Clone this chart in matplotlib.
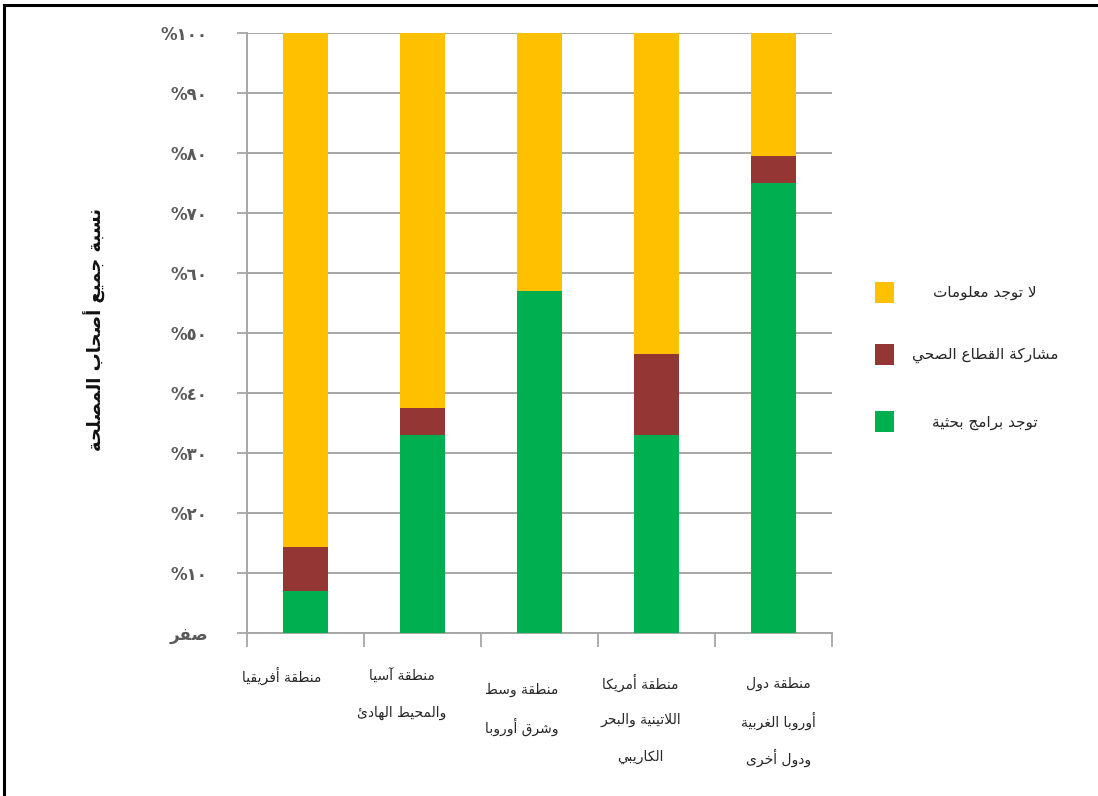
import matplotlib
matplotlib.use("Agg")
import matplotlib.pyplot as plt
from matplotlib.patches import Rectangle
from matplotlib.lines import Line2D
from matplotlib.transforms import blended_transform_factory
import numpy as np

# ---- Arabic shaping helpers (presentation forms, visual order) ----
_FORMS = {
    '\u0621': (0xFE80, 1),
    '\u0622': (0xFE81, 2), '\u0623': (0xFE83, 2), '\u0624': (0xFE85, 2), '\u0625': (0xFE87, 2),
    '\u0626': (0xFE89, 4), '\u0627': (0xFE8D, 2), '\u0628': (0xFE8F, 4), '\u0629': (0xFE93, 2),
    '\u062A': (0xFE95, 4), '\u062B': (0xFE99, 4), '\u062C': (0xFE9D, 4), '\u062D': (0xFEA1, 4),
    '\u062E': (0xFEA5, 4), '\u062F': (0xFEA9, 2), '\u0630': (0xFEAB, 2), '\u0631': (0xFEAD, 2),
    '\u0632': (0xFEAF, 2), '\u0633': (0xFEB1, 4), '\u0634': (0xFEB5, 4), '\u0635': (0xFEB9, 4),
    '\u0636': (0xFEBD, 4), '\u0637': (0xFEC1, 4), '\u0638': (0xFEC5, 4), '\u0639': (0xFEC9, 4),
    '\u063A': (0xFECD, 4), '\u0641': (0xFED1, 4), '\u0642': (0xFED5, 4), '\u0643': (0xFED9, 4),
    '\u0644': (0xFEDD, 4), '\u0645': (0xFEE1, 4), '\u0646': (0xFEE5, 4), '\u0647': (0xFEE9, 4),
    '\u0648': (0xFEED, 2), '\u0649': (0xFEEF, 2), '\u064A': (0xFEF1, 4),
}
_LAM_ALEF = {'\u0622': 0xFEF5, '\u0623': 0xFEF7, '\u0625': 0xFEF9, '\u0627': 0xFEFB}


def _nforms(c):
    if isinstance(c, tuple):
        return 2
    return _FORMS.get(c, (None, 0))[1]


def _shape_line(text):
    chars = []
    i = 0
    while i < len(text):
        c = text[i]
        if c == '\u0644' and i + 1 < len(text) and text[i + 1] in _LAM_ALEF:
            chars.append(('LA', text[i + 1]))
            i += 2
        else:
            chars.append(c)
            i += 1
    out = []
    for k, c in enumerate(chars):
        prev = chars[k - 1] if k > 0 else None
        nxt = chars[k + 1] if k + 1 < len(chars) else None
        n = _nforms(c)
        if n == 0:
            out.append(c)
            continue
        join_prev = prev is not None and _nforms(prev) == 4 and n >= 2
        join_next = n == 4 and nxt is not None and _nforms(nxt) >= 2
        if isinstance(c, tuple):
            out.append(chr(_LAM_ALEF[c[1]] + (1 if join_prev else 0)))
            continue
        base = _FORMS[c][0]
        if n == 1:
            idx = 0
        elif n == 2:
            idx = 1 if join_prev else 0
        else:
            idx = {(False, False): 0, (True, False): 1,
                   (False, True): 2, (True, True): 3}[(join_prev, join_next)]
        out.append(chr(base + idx))
    return ''.join(out)[::-1]


def ar(text):
    return '\n'.join(_shape_line(line) for line in text.split('\n'))


# ---- data ----
categories = [
    "منطقة أفريقيا",
    "منطقة آسيا\nوالمحيط الهادئ",
    "منطقة وسط\nوشرق أوروبا",
    "منطقة أمريكا\nاللاتينية والبحر\nالكاريبي",
    "منطقة دول\nأوروبا الغربية\nودول أخرى",
]
research_programs = [7.0, 33.0, 57.0, 33.0, 75.0]
health_sector = [7.3, 4.5, 0.0, 13.5, 4.5]
no_information = [85.7, 62.5, 43.0, 53.5, 20.5]

series_labels = ["لا توجد معلومات", "مشاركة القطاع الصحي", "توجد برامج بحثية"]
y_label = "نسبة جميع أصحاب المصلحة"
y_ticks = [0, 10, 20, 30, 40, 50, 60, 70, 80, 90, 100]
y_tick_labels = ["صفر", "%١٠", "%٢٠", "%٣٠", "%٤٠", "%٥٠", "%٦٠", "%٧٠", "%٨٠", "%٩٠", "%١٠٠"]

c_yellow = "#FFC000"
c_red = "#943634"
c_green = "#00B050"
c_grid = "#A6A6A6"

W, H = 1098, 796
plt.rcParams['font.family'] = ['DejaVu Sans']

fig = plt.figure(figsize=(W / 100, H / 100), dpi=100)
ax = fig.add_axes([247 / W, 1 - 633 / H, (832 - 247) / W, (633 - 33) / H])

x = np.arange(len(categories))
w = 0.39
b1 = np.array(research_programs)
b2 = b1 + np.array(health_sector)
ax.bar(x, research_programs, w, color=c_green, zorder=3)
ax.bar(x, health_sector, w, bottom=b1, color=c_red, zorder=3)
ax.bar(x, no_information, w, bottom=b2, color=c_yellow, zorder=3)

ax.set_xlim(-0.5, len(categories) - 0.5)
ax.set_ylim(0, 100)

ax.set_yticks(y_ticks)
ax.set_yticklabels([ar(t) if not t.startswith('%') else t for t in y_tick_labels],
                   fontsize=12, fontweight='bold', color='#595959')
ax.tick_params(axis='y', length=7.2, width=1.3, color=c_grid, pad=21)
ax.grid(axis='y', color=c_grid, linewidth=1.4, zorder=0)

# category separators on the x axis
ax.set_xticks(np.arange(len(categories) + 1) - 0.5)
ax.set_xticklabels([])
ax.tick_params(axis='x', length=10, width=1.3, color=c_grid, direction='out')

# category labels, one text per line
label_dx = [-0.20, -0.175, -0.15, -0.135, 0.04]
label_top_px = [676, 676, 690, 683, 684]
line_step_px = 37
trans = blended_transform_factory(ax.transData, fig.transFigure)
for xi, lab, dx, top in zip(x, categories, label_dx, label_top_px):
    for j, line in enumerate(lab.split('\n')):
        ax.text(xi + dx, 1 - (top + j * line_step_px) / H, ar(line), ha='center',
                va='center', fontsize=10, color='#262626', transform=trans)

for side in ('top', 'right'):
    ax.spines[side].set_visible(False)
for side in ('left', 'bottom'):
    ax.spines[side].set_color(c_grid)
    ax.spines[side].set_linewidth(1.4)

fig.text(95 / W, 1 - 330 / H, ar(y_label), rotation=90, ha='center', va='center',
         fontsize=13, fontweight='bold', color='#111111')

# legend
legend_colors = [c_yellow, c_red, c_green]
legend_y = [293, 355, 422]
for col, lab, yy in zip(legend_colors, series_labels, legend_y):
    fig.add_artist(Rectangle((875 / W, 1 - (yy + 10) / H), 19 / W, 21 / H,
                             transform=fig.transFigure, facecolor=col, edgecolor='none'))
    fig.text(985 / W, 1 - yy / H, ar(lab), ha='center', va='center',
             fontsize=11, color='#262626')

# outer frame (top and left edges)
fig.add_artist(Line2D([4 / W, 1], [1 - 5 / H, 1 - 5 / H], transform=fig.transFigure,
                      color='black', linewidth=2.2))
fig.add_artist(Line2D([4 / W, 4 / W], [0, 1 - 5 / H], transform=fig.transFigure,
                      color='black', linewidth=2.2))

fig.savefig("out.png", dpi=100)
